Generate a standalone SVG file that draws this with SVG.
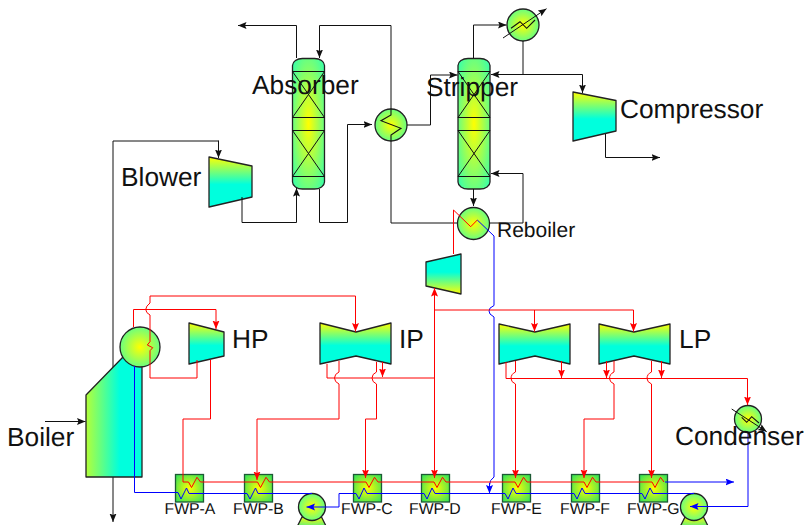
<svg xmlns="http://www.w3.org/2000/svg" width="807" height="525" viewBox="0 0 807 525">
<style>
text{font-family:"Liberation Sans",Arial,sans-serif;fill:#111;text-rendering:geometricPrecision}
.l{font-size:26.3px}.s{font-size:15.8px}
.eq{stroke:#222;stroke-width:1.3;stroke-linejoin:round}
.in{fill:none;stroke:#111;stroke-width:1.1}
.k{fill:none;stroke:#111;stroke-width:1}
.ka{fill:none;stroke:#111;stroke-width:1;marker-end:url(#ak)}
.r{fill:none;stroke:#f00;stroke-width:1}
.ra{fill:none;stroke:#f00;stroke-width:1;marker-end:url(#ar)}
.b{fill:none;stroke:#00f;stroke-width:1}
.ba{fill:none;stroke:#00f;stroke-width:1;marker-end:url(#ab)}
.col{fill:url(#rg)}.cir{fill:url(#rg)}.tur{fill:url(#vg)}.tur2{fill:url(#vg2)}
.box{fill:url(#rg2);stroke:#1d5a34;stroke-width:1.3}
.pb{fill:url(#pg)}
</style>
<defs>
<radialGradient id="rg" r=".72"><stop offset="0" stop-color="#ff0"/><stop offset="1" stop-color="#28ffb8"/></radialGradient>
<radialGradient id="rg2" r=".72"><stop offset="0" stop-color="#ff0"/><stop offset="1" stop-color="#22e060"/></radialGradient>
<radialGradient id="pg" cx=".5" cy="0" r="1"><stop offset="0" stop-color="#ff0"/><stop offset="1" stop-color="#70f070"/></radialGradient>
<linearGradient id="vg" x1="0" y1="0" x2="0" y2="1"><stop offset="0" stop-color="#ff0"/><stop offset=".55" stop-color="#0fd"/><stop offset="1" stop-color="#0fd"/></linearGradient>
<linearGradient id="vg2" x1="0" y1="1" x2="0" y2="0"><stop offset="0" stop-color="#ff0"/><stop offset=".55" stop-color="#0fd"/><stop offset="1" stop-color="#0fd"/></linearGradient>
<linearGradient id="hg" x1="0" y1="0" x2="1" y2="0"><stop offset="0" stop-color="#b4ff38"/><stop offset=".6" stop-color="#0fd"/><stop offset="1" stop-color="#0fd"/></linearGradient>
<marker id="ak" markerUnits="userSpaceOnUse" markerWidth="10" markerHeight="8" refX="8.5" refY="3.5" orient="auto"><path d="M0 0L8.5 3.5L0 7L1.5 3.5Z" fill="#111"/></marker>
<marker id="ar" markerUnits="userSpaceOnUse" markerWidth="10" markerHeight="8" refX="8.5" refY="3.5" orient="auto"><path d="M0 0L8.5 3.5L0 7L1.5 3.5Z" fill="#f00"/></marker>
<marker id="ab" markerUnits="userSpaceOnUse" markerWidth="10" markerHeight="8" refX="8.5" refY="3.5" orient="auto"><path d="M0 0L8.5 3.5L0 7L1.5 3.5Z" fill="#00f"/></marker>
</defs>

<g id="connectors-under">
<path class="k" d="M113 141H218.5"/>
<path class="ka" d="M218.5 140.5V158"/>
<path class="ka" d="M113 141V522"/>
<path class="ka" d="M45 421.5H85.5"/>
</g>

<g id="absorber"><rect class="col eq" x="292.5" y="58.5" width="32" height="130.5" rx="10" ry="7"/><path class="k" d="M292.5 71.5H324.5L292.5 117.5H324.5L292.5 71.5M292.5 130.5H324.5L292.5 176.5H324.5L292.5 130.5"/></g>
<g id="stripper"><rect class="col eq" x="458" y="58.5" width="32" height="130.5" rx="10" ry="7"/><path class="k" d="M458 71.5H490L458 117.5H490L458 71.5M458 130.5H490L458 176.5H490L458 130.5"/></g>
<g id="heat-exchanger"><circle class="cir eq" cx="391" cy="125" r="16"/><path class="in" d="M391 108V115L381 120.7L401 128.3L391 135V141"/></g>
<g id="cooler"><circle class="cir eq" cx="523" cy="25" r="16"/><path class="in" d="M511 28.3L520 21.7L526.7 28.3L535 20"/><path class="ka" d="M503 38L546.5 8.7"/></g>
<g id="reboiler"><circle class="cir eq" cx="473.5" cy="223.5" r="16"/></g>
<g id="blower"><polygon class="tur eq" points="209,157 252,166 252,197 209,207"/></g>
<g id="compressor"><polygon class="tur eq" points="573,92 616,100.5 616,131 573,141"/></g>
<g id="boiler"><polygon fill="url(#hg)" class="eq" points="86,395 123,357 142,357 142,477 86,477"/><circle class="cir eq" cx="140" cy="347" r="20"/></g>
<g id="hp"><polygon class="tur eq" points="189,323 224,332 224,356 189,364"/></g>
<g id="ip"><polygon class="tur eq" points="320,323 356,332 391,323 391,364 356,356 320,364"/></g>
<g id="small-turbine"><polygon class="tur2 eq" points="426,262 461,254 461,294 426,286"/></g>
<g id="lp-1"><polygon class="tur eq" points="499,324 535,332 570,324 570,364 535,356 499,364"/></g>
<g id="lp-2"><polygon class="tur eq" points="599,324 634,332 670,324 670,364 634,356 599,364"/></g>
<g id="condenser"><circle class="cir eq" cx="748" cy="419" r="13.5"/><path class="in" d="M741.7 417.3L746.7 422.3L751.7 416.7L759 423"/><path class="ka" d="M731.7 409L766.7 431.7"/></g>
<g id="fwp-a"><rect class="box" x="175.5" y="474.5" width="28" height="27.5"/></g>
<g id="fwp-b"><rect class="box" x="244.5" y="474.5" width="28" height="27.5"/></g>
<g id="fwp-c"><rect class="box" x="353.5" y="474.5" width="28" height="27.5"/></g>
<g id="fwp-d"><rect class="box" x="421.5" y="474.5" width="28" height="27.5"/></g>
<g id="fwp-e"><rect class="box" x="502.5" y="474.5" width="28" height="27.5"/></g>
<g id="fwp-f"><rect class="box" x="571.5" y="474.5" width="28" height="27.5"/></g>
<g id="fwp-g"><rect class="box" x="639.5" y="474.5" width="28" height="27.5"/></g>
<g id="pump-1"><path class="pb eq" d="M302 517L297.5 526H326L321.5 517Z"/><circle class="cir eq" cx="312" cy="507" r="13.5"/></g>
<g id="pump-2"><path class="pb eq" d="M685 517L680.5 526H708L703.5 517Z"/><circle class="cir eq" cx="694" cy="507" r="13.5"/></g>

<g id="connectors">
<path class="ka" d="M296.5 58V25.5H238"/>
<path class="ka" d="M391 108V25.5H319.5V58"/>
<path class="ka" d="M319.5 189V222.5H347.5V124.5H372"/>
<path class="ka" d="M242 197V222.5H296.5V188"/>
<path class="ka" d="M407 125H430.5V75H457.5"/>
<path class="ka" d="M473.5 58V25H506.5"/>
<path class="k" d="M523 41V74.5"/>
<path class="ka" d="M523 74.5H491"/>
<path class="ka" d="M523 74.5H582.5V93"/>
<path class="ka" d="M605.5 134V157.5H660"/>
<path class="ka" d="M473.5 189V206"/>
<path class="ka" d="M489.5 223H523V173.5H491"/>
<path class="k" d="M391 141V223H457"/>

<path class="r" d="M453.5 254V210L470.7 226.7L477.3 220"/>
<path class="b" d="M477.3 220L494 236V305.5Q488.5 308 489 311Q488.5 314 494 317V477Q489.5 480 489.5 485"/>
<path class="ba" d="M489.5 483V493.5"/>
<path class="b" d="M134.5 366V492.5H178L181 499L186.5 488L189 493.5H247L250 499L255.5 488L258 493.5H312"/>
<path class="ba" d="M694 493.5H653L650 488L645 499L642 493.5H585L582 488L577 499L574 493.5H516L513 488L508 499L505 493.5H435L432 488L427 499L424 493.5H367L364 488L359 499L356 493.5H339V507H306.5"/>
<path class="ba" d="M748 432V506.5H690"/>
<path class="ba" d="M665 482H734"/>

<path class="ra" d="M133.5 327V309.5H216V329"/>
<path class="ra" d="M150 378V350.7L152.7 347.7L147.3 345L150 341.7V315Q146 313 145.7 309.5Q146 306 150 303V296H355.5V331.5"/>
<path class="r" d="M197 360V378H150"/>
<path class="r" d="M210.5 360V419H183V482H188.5L191.5 487.5L197 477.3L200.5 482H257.5L260.5 487.5L266 477.3L269.5 482H366L369 487.5L374.5 477.3L378 482H434L437 487.5L442.5 477.3L446 482H515L518 487.5L523.5 477.3L527 482H584L587 487.5L592.5 477.3L596 482H652L655 487.5L660.5 477.3L664 482"/>
<path class="ra" d="M339 361V372Q334.5 374 334.5 378Q334.5 382 339 384V419H257V480"/>
<path class="ra" d="M376.5 362V372Q372 374 372 378Q372 382 376.5 384V419H365.5V478"/>
<path class="r" d="M327 364V378H434.5"/>
<path class="ra" d="M382.5 362V377"/>
<path class="ra" d="M434.5 378V288"/>
<path class="ra" d="M434.5 378V478"/>
<path class="r" d="M434.5 310H633.5"/>
<path class="ra" d="M534.5 310V331.5"/>
<path class="ra" d="M633.5 310V331.5"/>
<path class="ra" d="M506 362V378.5H747.5V405"/>
<path class="ra" d="M515.5 361V372Q511 374 511 378.5Q511 382 515.5 384V478"/>
<path class="ra" d="M561.5 361V378"/>
<path class="ra" d="M606.5 361V378"/>
<path class="ra" d="M614 361V372Q609.5 374 609.5 378.5Q609.5 382 614 384V419H584V478"/>
<path class="ra" d="M651.5 361V372Q647 374 647 378.5Q647 382 651.5 384V478"/>
<path class="ra" d="M661.5 361V378"/>
</g>

<g id="labels">
<text class="l" x="252" y="94">Absorber</text>
<text class="l" x="426" y="96">Stripper</text>
<text class="l" x="620" y="118">Compressor</text>
<text class="l" x="121" y="186">Blower</text>
<text class="l" x="232" y="348">HP</text>
<text class="l" x="399" y="348">IP</text>
<text class="l" x="679" y="348">LP</text>
<text class="l" x="7" y="446">Boiler</text>
<text class="l" x="675" y="445">Condenser</text>
<text x="497" y="237" font-size="21">Reboiler</text>
<text class="s" x="164.5" y="514">FWP-A</text>
<text class="s" x="233" y="514">FWP-B</text>
<text class="s" x="341" y="514">FWP-C</text>
<text class="s" x="409" y="514">FWP-D</text>
<text class="s" x="491" y="514">FWP-E</text>
<text class="s" x="560" y="514">FWP-F</text>
<text class="s" x="627" y="514">FWP-G</text>
</g>
</svg>
